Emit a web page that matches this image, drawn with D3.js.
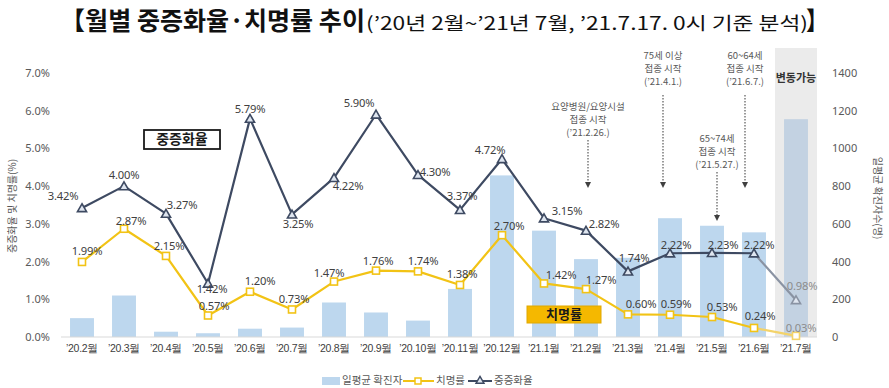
<!DOCTYPE html>
<html><head><meta charset="utf-8">
<script src="https://cdn.jsdelivr.net/npm/d3@7"></script>
<style>
body{margin:0;background:#fff;}
svg{display:block;font-family:"Noto Sans CJK KR","Noto Sans",sans-serif;}
</style></head>
<body><svg id="c" width="889" height="388"></svg>
<script>
const months = ["’20.2월","’20.3월","’20.4월","’20.5월","’20.6월","’20.7월","’20.8월","’20.9월","’20.10월","’20.11월","’20.12월","’21.1월","’21.2월","’21.3월","’21.4월","’21.5월","’21.6월","’21.7월"];
const dailyCases = [100,220,28,20,44,50,183,130,87,255,857,564,413,420,630,590,555,1155];
const fatalityRate = [1.99,2.87,2.15,0.57,1.20,0.73,1.47,1.76,1.74,1.38,2.70,1.42,1.27,0.60,0.59,0.53,0.24,0.03];
const severeRate = [3.42,4.00,3.27,1.42,5.79,3.25,4.22,5.90,4.30,3.37,4.72,3.15,2.82,1.74,2.22,2.23,2.22,0.98];
const leftTicks = [0,1,2,3,4,5,6,7];
const rightTicks = [0,200,400,600,800,1000,1200,1400];
const seriesNames = ["일평균 확진자","치명률","중증화율"];
const titleMain = "【월별 중증화율·치명률 추이";
const titleSub = "(’20년 2월~’21년 7월, ’21.7.17. 0시 기준 분석)";
const titleEnd = "】";
const leftTitle = "중증화율 및 치명률(%)";
const rightTitle = "일평균 확진자수(명)";
const annotations = [
  {month:"’21.2월", lines:["요양병원/요양시설","접종 시작","(’21.2.26.)"]},
  {month:"’21.4월", lines:["75세 이상","접종 시작","(’21.4.1.)"]},
  {month:"’21.5월", lines:["65~74세","접종 시작","(’21.5.27.)"]},
  {month:"’21.6월", lines:["60~64세","접종 시작","(’21.6.7.)"]}
];
// layout (not data)
const severeOff = [[-19,-11],[0,-10],[16,-8],[4,7],[0,-9],[6,11],[14,9],[-17,-10],[17,-2],[2,-13],[-12,-8],[23,-6],[18,-6],[6,-12],[6,-7],[11,-7],[5,-7],[6,-13]];
const fatalOff = [[5,-10],[7,-7],[3,-9],[6,-9],[10,-10],[2,-9],[-5,-8],[2,-9],[5,-9],[2,-10],[7,-8],[17,-7],[15,-8],[13,-9],[6,-10],[10,-9],[6,-11],[5,-7]];
const annLayout = [
  {dx:2, textY:107, y1:140, y2:188},
  {dx:-7, textY:56, y1:95, y2:188},
  {dx:5, textY:139, y1:172, y2:221},
  {dx:-9, textY:56, y1:95, y2:188}
];

const svg = d3.select("#c");
const x = d3.scaleBand().domain(months).range([61,817]).paddingInner(0.43).paddingOuter(0.215);
const yL = d3.scaleLinear().domain([0,7]).range([337,73]);
const yR = d3.scaleLinear().domain([0,1400]).range([337,73]);
const cx = m => x(m) + x.bandwidth()/2;
const last = months.length-1;

// gray band for last month
svg.append("rect").attr("x", x(months[last]) - x.step()*x.paddingInner()/2).attr("y",48)
  .attr("width", x.step()).attr("height", yR(0)-48).attr("fill","#ebebeb");

// bars
svg.selectAll("rect.bar").data(dailyCases).join("rect").attr("class","bar")
  .attr("x",(d,i)=>x(months[i])).attr("width",x.bandwidth())
  .attr("y",d=>yR(d)).attr("height",d=>yR(0)-yR(d))
  .attr("fill",(d,i)=> i===last ? "#c3d2e2" : "#bdd7ee");

// baseline
svg.append("line").attr("x1",61).attr("x2",817).attr("y1",yR(0)).attr("y2",yR(0)).attr("stroke","#d9d9d9").attr("stroke-width",1);

// axes labels
const gl = svg.append("g").attr("transform","translate(50,0)")
  .call(d3.axisLeft(yL).tickValues(leftTicks).tickFormat(d=>d.toFixed(1)+"%").tickSize(0).tickPadding(0));
gl.select(".domain").remove();
gl.selectAll("text").attr("font-size",11).attr("fill","#595959").attr("font-family","'Noto Sans',sans-serif");
const gr = svg.append("g").attr("transform","translate(832,0)")
  .call(d3.axisRight(yR).tickValues(rightTicks).tickFormat(d3.format("d")).tickSize(0).tickPadding(0));
gr.select(".domain").remove();
gr.selectAll("text").attr("font-size",11).attr("fill","#595959").attr("font-family","'Noto Sans',sans-serif");
const gx = svg.append("g").attr("transform","translate(0,345)")
  .call(d3.axisBottom(x).tickSize(0).tickPadding(0));
gx.select(".domain").remove();
gx.selectAll("text").attr("font-size",10.5).attr("fill","#404040").attr("dy","0.71em").attr("letter-spacing","-0.3");

// axis titles
svg.append("text").attr("transform","translate(13,206) rotate(-90)").attr("text-anchor","middle")
  .attr("dominant-baseline","middle").attr("font-size",10).attr("fill","#595959").text(leftTitle);
svg.append("text").attr("transform","translate(877,198) rotate(90)").attr("text-anchor","middle")
  .attr("dominant-baseline","middle").attr("font-size",10).attr("fill","#595959").text(rightTitle);

// lines
function drawLine(vals, color, lastColor){
  const line = d3.line().x((d,i)=>cx(months[i])).y(d=>yL(d));
  svg.append("path").datum(vals.slice(0,last)).attr("d",line).attr("fill","none").attr("stroke",color).attr("stroke-width",2.2).attr("stroke-linejoin","round");
  svg.append("path").attr("d", d3.line()([[cx(months[last-1]),yL(vals[last-1])],[cx(months[last]),yL(vals[last])]]))
    .attr("fill","none").attr("stroke",lastColor).attr("stroke-width",2.2);
}
drawLine(fatalityRate, "#f2c315", "#f3d36a");
drawLine(severeRate, "#3e4a62", "#8a93a3");

// markers
svg.selectAll("rect.fm").data(fatalityRate).join("rect").attr("class","fm")
  .attr("x",(d,i)=>cx(months[i])-3.5).attr("y",d=>yL(d)-3.5).attr("width",7).attr("height",7)
  .attr("fill","#fff").attr("stroke",(d,i)=> i===last?"#f3d36a":"#f2c315").attr("stroke-width",1.6);
const tri = d3.symbol().type(d3.symbolTriangle).size(36);
svg.selectAll("path.sm").data(severeRate).join("path").attr("class","sm")
  .attr("d",tri).attr("transform",(d,i)=>`translate(${cx(months[i])},${yL(d)+1})`)
  .attr("fill","#dfe6f0").attr("stroke",(d,i)=> i===last?"#8a93a3":"#3e4a62").attr("stroke-width",1.6);

// data labels
function labels(vals, off){
  svg.append("g").selectAll("text").data(vals).join("text")
    .attr("x",(d,i)=>cx(months[i])+off[i][0]).attr("y",(d,i)=>yL(d)+off[i][1])
    .attr("text-anchor","middle").attr("dominant-baseline","middle")
    .attr("font-size",11.2).attr("font-family","'Noto Sans',sans-serif").attr("letter-spacing","-0.2")
    .attr("fill",(d,i)=> i===last?"#8c8c8c":"#404040")
    .text(d=>d.toFixed(2)+"%");
}
labels(severeRate, severeOff);
labels(fatalityRate, fatalOff);

// series callout boxes
svg.append("rect").attr("x",144).attr("y",130).attr("width",76).attr("height",19).attr("fill","#fff").attr("stroke","#1a1a1a").attr("stroke-width",1.8);
svg.append("text").attr("x",182).attr("y",140).attr("text-anchor","middle").attr("dominant-baseline","middle")
  .attr("font-size",14).attr("font-weight","bold").attr("fill","#1a1a1a").text(seriesNames[2]);
svg.append("rect").attr("x",527).attr("y",306).attr("width",74).attr("height",17).attr("fill","#f5b800").attr("stroke","#e0a800").attr("stroke-width",1);
svg.append("text").attr("x",564).attr("y",315).attr("text-anchor","middle").attr("dominant-baseline","middle")
  .attr("font-size",13).attr("font-weight","bold").attr("fill","#1a1a1a").text(seriesNames[1]);

// 변동가능
svg.append("text").attr("x",cx(months[last])).attr("y",79).attr("text-anchor","middle").attr("dominant-baseline","middle")
  .attr("font-size",11).attr("font-weight","bold").attr("fill","#333").text("변동가능");

// annotations
annotations.forEach((a,k)=>{
  const L = annLayout[k];
  const ax = cx(a.month) + L.dx;
  a.lines.forEach((ln,j)=> svg.append("text").attr("text-anchor","middle").attr("font-size",9.5).attr("fill","#595959")
    .attr("x",ax).attr("y",L.textY+j*13).attr("dominant-baseline","middle").text(ln));
  svg.append("line").attr("x1",ax).attr("x2",ax).attr("y1",L.y1).attr("y2",L.y2-5)
    .attr("stroke","#595959").attr("stroke-width",1.2).attr("stroke-dasharray","1.5,1.5");
  svg.append("path").attr("d",`M${ax-3},${L.y2-6}L${ax+3},${L.y2-6}L${ax},${L.y2}Z`).attr("fill","#404040");
});

// title
svg.append("text").attr("x",60).attr("y",30).attr("font-size",25).attr("font-weight","bold").attr("fill","#111")
  .attr("textLength",305).attr("lengthAdjust","spacingAndGlyphs").text(titleMain);
svg.append("text").attr("x",366).attr("y",30).attr("font-size",18).attr("fill","#111")
  .attr("textLength",442).attr("lengthAdjust","spacingAndGlyphs").text(titleSub);
svg.append("text").attr("x",806).attr("y",30).attr("font-size",25).attr("font-weight","bold").attr("fill","#111")
  .attr("textLength",22).attr("lengthAdjust","spacingAndGlyphs").text(titleEnd);

// legend
const lg = svg.append("g").attr("font-size",10.5).attr("fill","#595959");
lg.append("rect").attr("x",322).attr("y",377).attr("width",18).attr("height",8).attr("fill","#bdd7ee");
lg.append("text").attr("x",342).attr("y",381).attr("dominant-baseline","middle").text(seriesNames[0]);
lg.append("line").attr("x1",403).attr("x2",434).attr("y1",381).attr("y2",381).attr("stroke","#f2c315").attr("stroke-width",2);
lg.append("rect").attr("x",415).attr("y",378).attr("width",6).attr("height",6).attr("fill","#fff").attr("stroke","#f2c315").attr("stroke-width",1.5);
lg.append("text").attr("x",436).attr("y",381).attr("dominant-baseline","middle").text(seriesNames[1]);
lg.append("line").attr("x1",468).attr("x2",492).attr("y1",381).attr("y2",381).attr("stroke","#3e4a62").attr("stroke-width",2);
lg.append("path").attr("d",d3.symbol().type(d3.symbolTriangle).size(28)).attr("transform","translate(480,381)").attr("fill","#dfe6f0").attr("stroke","#3e4a62").attr("stroke-width",1.4);
lg.append("text").attr("x",494).attr("y",381).attr("dominant-baseline","middle").text(seriesNames[2]);
</script></body></html>
